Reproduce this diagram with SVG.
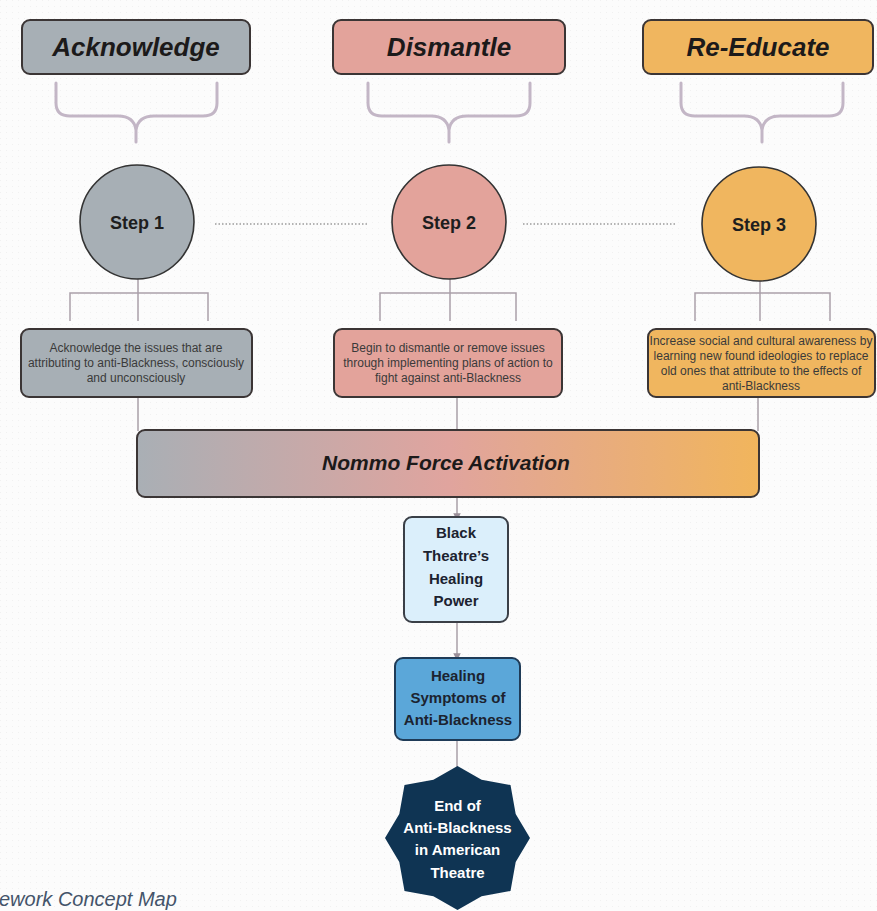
<svg xmlns="http://www.w3.org/2000/svg" width="877" height="911" viewBox="0 0 877 911">
<defs>
<linearGradient id="nommoGrad" x1="0" y1="0" x2="1" y2="0">
<stop offset="0" stop-color="#a9afb5"/>
<stop offset="0.5" stop-color="#e0a49e"/>
<stop offset="1" stop-color="#f1b55c"/>
</linearGradient>
<marker id="tip" viewBox="0 0 6 6" refX="3" refY="3" markerWidth="5" markerHeight="5" orient="auto">
<path d="M0 0 L6 3 L0 6 Z" fill="#9a8f99"/>
</marker>
<pattern id="grid" width="6" height="6" patternUnits="userSpaceOnUse">
<rect width="6" height="6" fill="#fcfcfc"/>
<rect width="1" height="1" fill="#f1f1f1"/>
</pattern>
</defs>
<style>
.hdr{stroke:#3b3535;stroke-width:2}
.hdrT{font-family:"Liberation Sans",Arial,sans-serif;font-weight:bold;font-style:italic;font-size:26px;fill:#1c1a1a;text-anchor:middle}
.brace{fill:none;stroke:#c3b6c6;stroke-width:3;stroke-linecap:round;stroke-linejoin:round}
.circ{stroke:#333;stroke-width:1.6}
.stepT{font-family:"Liberation Sans",Arial,sans-serif;font-weight:bold;font-size:18px;fill:#1e1e1e;text-anchor:middle}
.conn{fill:none;stroke:#aaa0a9;stroke-width:1.5}
.dots{fill:none;stroke:#9a9a9a;stroke-width:1.5;stroke-dasharray:1.5 2}
.box{stroke:#3b3535;stroke-width:2}
.boxT{font-family:"Liberation Sans",Arial,sans-serif;font-size:12px;fill:#3a3a3a;text-anchor:middle}
.bigT{font-family:"Liberation Sans",Arial,sans-serif;font-weight:bold;font-size:15px;fill:#1c2330;text-anchor:middle}
.whiteT{font-family:"Liberation Sans",Arial,sans-serif;font-weight:bold;font-size:15px;fill:#ffffff;text-anchor:middle}
</style>
<rect width="877" height="911" fill="url(#grid)"/>

<g id="connectors">
<line class="dots" x1="215" y1="224" x2="368" y2="224"/>
<line class="dots" x1="523" y1="224" x2="677" y2="224"/>
<path class="conn" d="M138 253 V321 M70 321 V293 H208 V321"/>
<path class="conn" d="M450 253 V321 M380 321 V293 H516 V321"/>
<path class="conn" d="M760 263 V321 M695 321 V293 H830 V321"/>
<line class="conn" x1="138" y1="397" x2="138" y2="431"/>
<line class="conn" x1="457" y1="397" x2="457" y2="431"/>
<line class="conn" x1="758" y1="397" x2="758" y2="431"/>
<line class="conn" x1="457" y1="497" x2="457" y2="517" marker-end="url(#tip)"/>
<line class="conn" x1="457" y1="615" x2="457" y2="657" marker-end="url(#tip)"/>
<line class="conn" x1="457" y1="740" x2="457" y2="781" marker-end="url(#tip)"/>
</g>

<g id="acknowledge">
<rect class="hdr" x="22" y="20" width="228" height="54" rx="8" fill="#a7afb5"/>
<text class="hdrT" x="136" y="56">Acknowledge</text>
<path class="brace" d="M56 83 V103 Q56 116 70 116 H118 Q134 116 136 130 V142 M217 83 V103 Q217 116 203 116 H154 Q138 116 136 130"/>
</g>
<g id="dismantle">
<rect class="hdr" x="333" y="20" width="232" height="54" rx="8" fill="#e3a39b"/>
<text class="hdrT" x="449" y="56">Dismantle</text>
<path class="brace" d="M368 83 V103 Q368 116 382 116 H431 Q447 116 449 130 V142 M530 83 V103 Q530 116 516 116 H467 Q451 116 449 130"/>
</g>
<g id="reeducate">
<rect class="hdr" x="643" y="20" width="230" height="54" rx="8" fill="#f0b65f"/>
<text class="hdrT" x="758" y="56">Re-Educate</text>
<path class="brace" d="M681 83 V103 Q681 116 695 116 H744 Q760 116 762 130 V142 M843 83 V103 Q843 116 829 116 H780 Q764 116 762 130"/>
</g>

<g id="step1">
<circle class="circ" cx="137" cy="222" r="57" fill="#a7afb5"/>
<text class="stepT" x="137" y="229">Step 1</text>
</g>
<g id="step2">
<circle class="circ" cx="449" cy="222" r="57" fill="#e3a39b"/>
<text class="stepT" x="449" y="229">Step 2</text>
</g>
<g id="step3">
<circle class="circ" cx="759" cy="224" r="57" fill="#f0b65f"/>
<text class="stepT" x="759" y="231">Step 3</text>
</g>

<g id="desc1">
<rect class="box" x="21" y="329" width="231" height="68" rx="8" fill="#a7afb5"/>
<text class="boxT" x="136" y="352">Acknowledge the issues that are</text>
<text class="boxT" x="136" y="367">attributing to anti-Blackness, consciously</text>
<text class="boxT" x="136" y="382">and unconsciously</text>
</g>
<g id="desc2">
<rect class="box" x="334" y="329" width="228" height="68" rx="8" fill="#e3a39b"/>
<text class="boxT" x="448" y="352">Begin to dismantle or remove issues</text>
<text class="boxT" x="448" y="367">through implementing plans of action to</text>
<text class="boxT" x="448" y="382">fight against anti-Blackness</text>
</g>
<g id="desc3">
<rect class="box" x="648" y="329" width="227" height="68" rx="8" fill="#f0b65f"/>
<text class="boxT" x="761" y="345">Increase social and cultural awareness by</text>
<text class="boxT" x="761" y="360">learning new found ideologies to replace</text>
<text class="boxT" x="761" y="375">old ones that attribute to the effects of</text>
<text class="boxT" x="761" y="390">anti-Blackness</text>
</g>

<g id="nommo">
<rect class="box" x="137" y="430" width="622" height="67" rx="8" fill="url(#nommoGrad)"/>
<text x="446" y="470" font-family="Liberation Sans, Arial, sans-serif" font-weight="bold" font-style="italic" font-size="21" fill="#1c1a1a" text-anchor="middle">Nommo Force Activation</text>
</g>

<g id="blacktheatre">
<rect x="404" y="517" width="104" height="105" rx="8" fill="#dbeffb" stroke="#3a3f47" stroke-width="2"/>
<text class="bigT" x="456" y="538">Black</text>
<text class="bigT" x="456" y="561">Theatre’s</text>
<text class="bigT" x="456" y="584">Healing</text>
<text class="bigT" x="456" y="606">Power</text>
</g>

<g id="healing">
<rect x="395" y="658" width="125" height="82" rx="8" fill="#5ba7d9" stroke="#1f3b57" stroke-width="2"/>
<text class="bigT" x="458" y="681">Healing</text>
<text class="bigT" x="458" y="703">Symptoms of</text>
<text class="bigT" x="458" y="725">Anti-Blackness</text>
</g>

<g id="end">
<polygon fill="#0f3453" points="457.5,766 481.6,779.8 510.5,785 515.7,813.9 530,838 515.7,862.1 510.5,891 481.6,896.2 457.5,910 433.4,896.2 404.5,891 399.3,862.1 385,838 399.3,813.9 404.5,785 433.4,779.8"/>
<text class="whiteT" x="457.5" y="811">End of</text>
<text class="whiteT" x="457.5" y="833">Anti-Blackness</text>
<text class="whiteT" x="457.5" y="855">in American</text>
<text class="whiteT" x="457.5" y="878">Theatre</text>
</g>

<text x="-1" y="906" font-family="Liberation Sans, Arial, sans-serif" font-style="italic" font-size="20" fill="#44546a">ework Concept Map</text>
</svg>
